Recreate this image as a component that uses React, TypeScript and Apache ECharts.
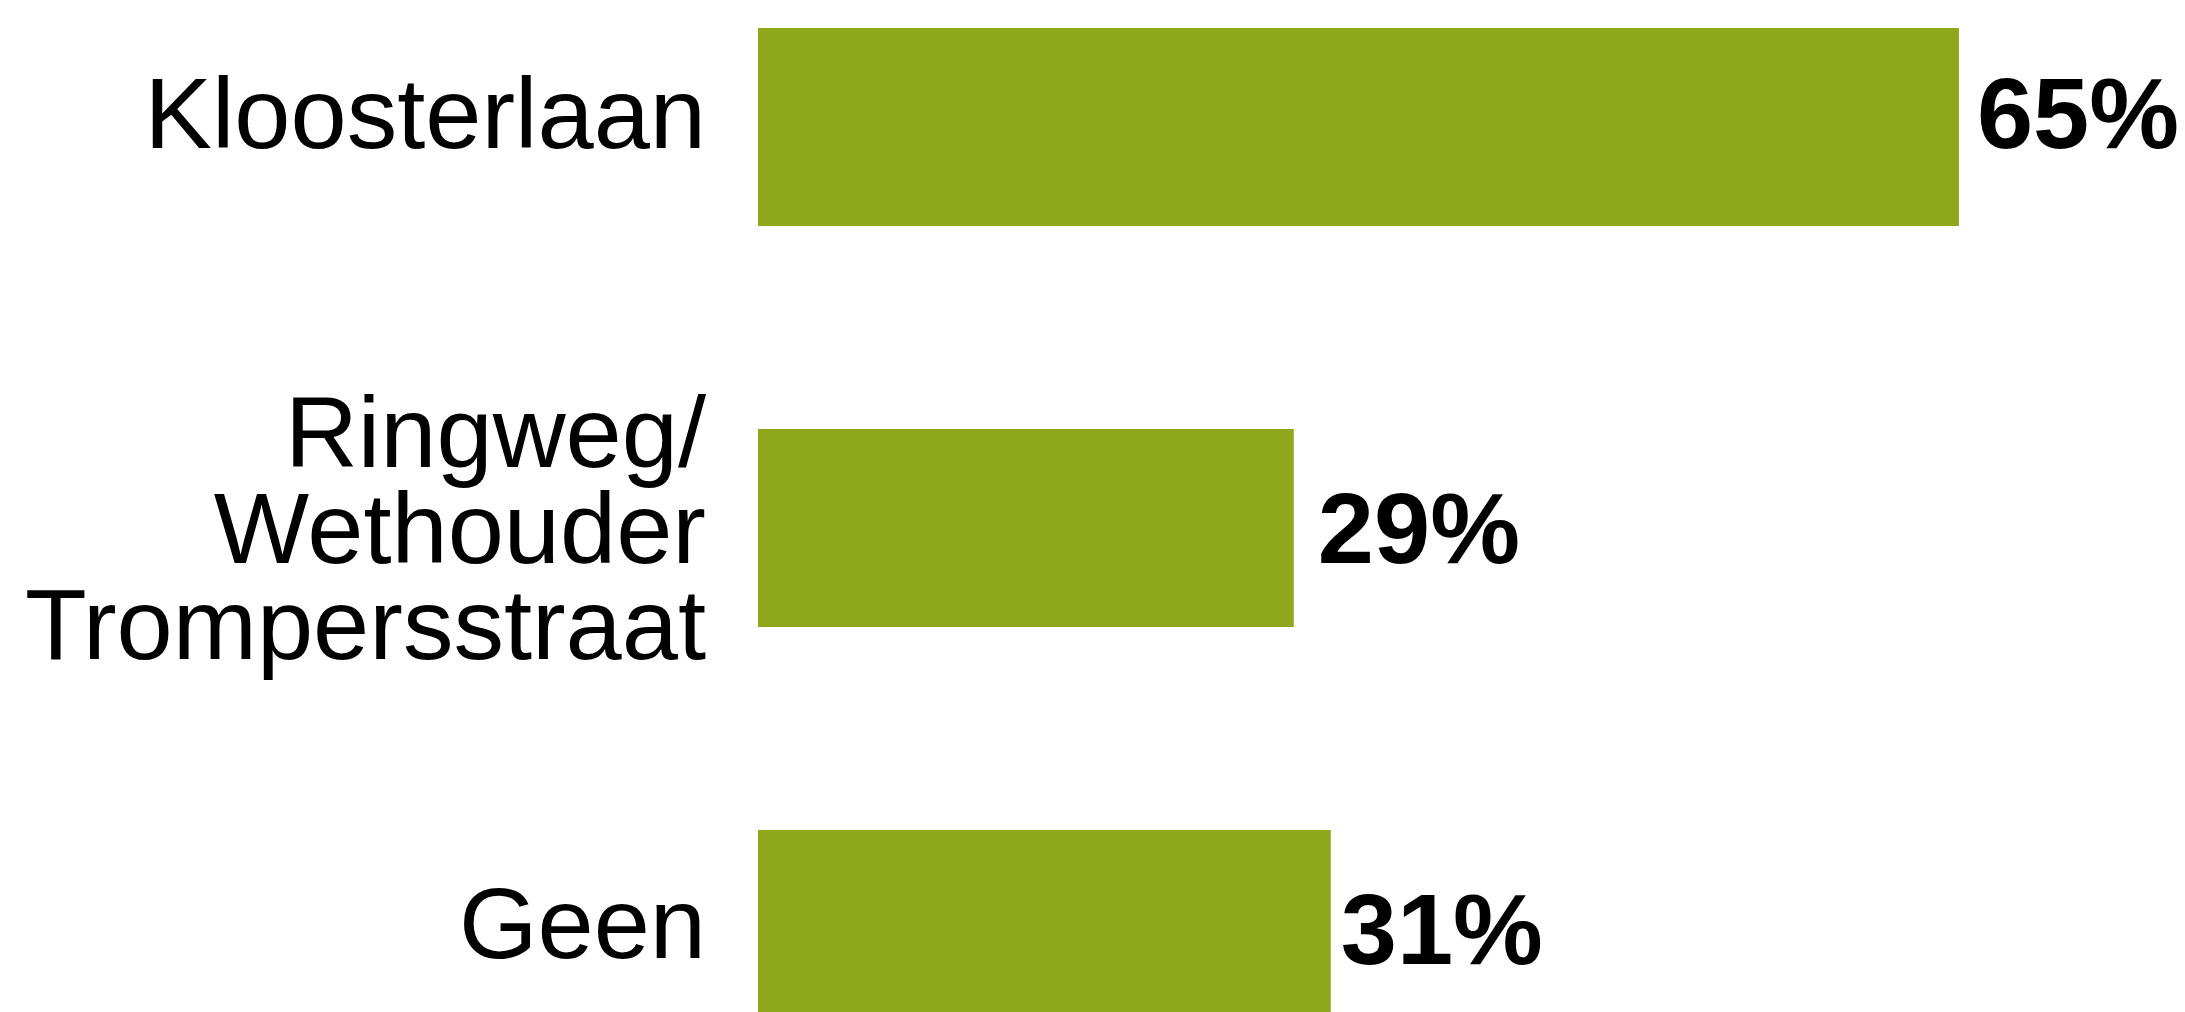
import React, { useEffect, useRef } from "react";
import * as echarts from "echarts";

const categories = ["Kloosterlaan", "Ringweg/\nWethouder\nTrompersstraat", "Geen"];
const values = [65, 29, 31];
// per-bar label nudges [dx, dy] in px (styling only)
const labelNudges = [
  [18, -14],
  [24, 0],
  [10, 0],
];
// how far each category label sits above its bar centre, px (styling only)
const axisLabelLift = [14, 0, 6];

export default function App() {
  const ref = useRef<HTMLDivElement>(null);
  useEffect(() => {
    document.body.style.margin = "0";
    const chart = echarts.init(ref.current!, null, { renderer: "svg" });
    const font = "'Liberation Sans', Arial, sans-serif";
    const rich: Record<string, any> = {};
    axisLabelLift.forEach((lift, i) => {
      rich["u" + i] = {
        fontSize: 101,
        lineHeight: 101,
        color: "#000000",
        fontFamily: font,
        padding: [0, 0, lift * 2, 0],
      };
    });
    chart.setOption({
      animation: false,
      backgroundColor: "#ffffff",
      grid: { left: 758, top: 127, width: 1293.3, height: 802, containLabel: false },
      xAxis: {
        type: "value",
        min: 0,
        max: 70,
        show: false,
        splitLine: { show: false },
      },
      yAxis: {
        type: "category",
        inverse: true,
        boundaryGap: false,
        data: categories,
        axisLine: { show: false },
        axisTick: { show: false },
        splitLine: { show: false },
        axisLabel: {
          margin: 52,
          fontSize: 101,
          lineHeight: 96,
          color: "#000000",
          fontFamily: font,
          align: "right",
          formatter: (v: string, i: number) =>
            axisLabelLift[i] ? `{u${i}|${v}}` : v,
          rich,
        },
      },
      series: [
        {
          type: "bar",
          barWidth: 198,
          clip: false,
          itemStyle: { color: "#8FA81B" },
          data: values.map((v, i) => ({
            value: v,
            label: { offset: labelNudges[i] },
          })),
          label: {
            show: true,
            position: "right",
            distance: 0,
            formatter: (p: any) => `${p.value}%`,
            fontSize: 101,
            fontWeight: "bold",
            color: "#000000",
            fontFamily: font,
          },
        },
      ],
    });
    return () => chart.dispose();
  }, []);
  return <div ref={ref} style={{ width: 2185, height: 1012 }} />;
}
